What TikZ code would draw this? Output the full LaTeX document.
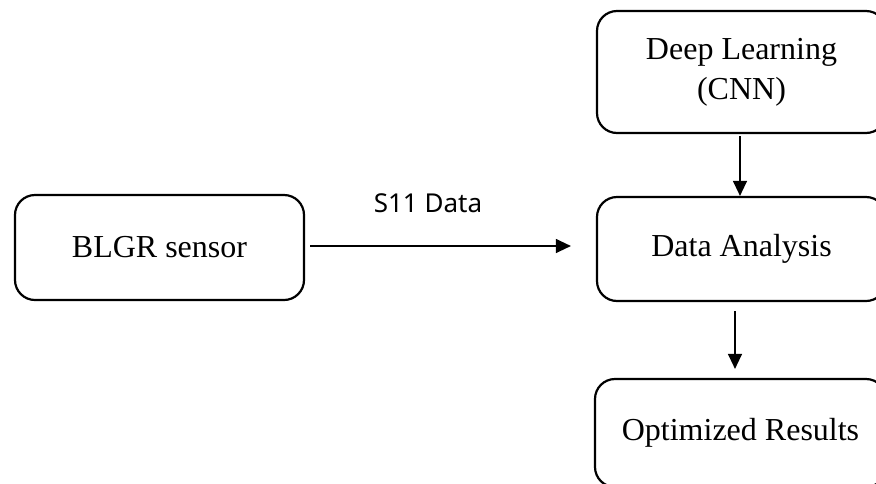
\documentclass[tikz,border=0pt]{standalone}
\usepackage{fontspec}
\setmainfont{Liberation Serif}
\newfontfamily\labelfont{Noto Sans}
\usetikzlibrary{arrows.meta,calc}
\begin{document}
\begin{tikzpicture}[x=1pt,y=-1pt,
  block/.style={draw, line width=2.2pt, rounded corners=20pt, align=center,
    inner sep=0pt, font=\fontsize{32}{40}\selectfont},
  flow/.style={line width=1.3pt, -{Triangle[length=15pt,width=14pt]}},
  lbl/.style={font=\labelfont\fontsize{26}{30}\selectfont}]
\useasboundingbox (0,0) rectangle (876,483);
\clip (0,0) rectangle (876,483);

% process blocks
\node[block, minimum width=289pt, minimum height=105pt] (sensor) at (159.5,247.5) {BLGR sensor};
\node[block, minimum width=289pt, minimum height=122pt] (cnn) at (741.5,72) {Deep Learning\\(CNN)};
\node[block, minimum width=289pt, minimum height=104pt] (data) at (741.5,249) {Data Analysis};
\node[block, minimum width=291pt, minimum height=108pt] (opt) at (740.5,433) {Optimized Results};

% connectors
\draw[flow] ($(sensor.east)+(5,-1.5)$) -- ($(data.west)+(-25,-3)$);
\node[lbl] (s11) at (428,203) {S11 Data};
\draw[flow] ($(cnn.south)+(-1.5,2)$) -- ($(data.north)+(-1.5,0)$);
\draw[flow] ($(data.south)+(-6.5,9)$) -- ($(opt.north)+(-5.5,-9)$);
\end{tikzpicture}
\end{document}
